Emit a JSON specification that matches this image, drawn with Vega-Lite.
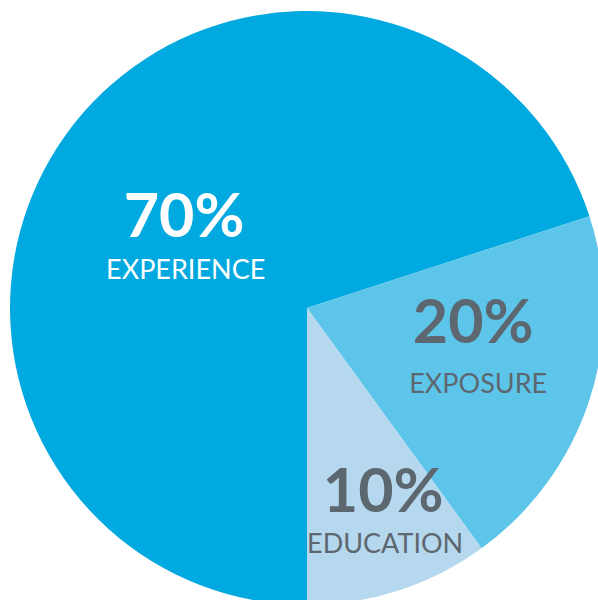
{
  "$schema": "https://vega.github.io/schema/vega-lite/v6.json",
  "width": 614,
  "height": 616,
  "padding": 0,
  "autosize": {"type": "none"},
  "background": "white",
  "config": {"view": {"stroke": null}},
  "data": {"values": [
    {"category": "EXPERIENCE", "value": 70, "pct": "70%"},
    {"category": "EXPOSURE", "value": 20, "pct": "20%"},
    {"category": "EDUCATION", "value": 10, "pct": "10%"}
  ]},
  "encoding": {
    "theta": {"field": "value", "type": "quantitative", "stack": true, "scale": {"range": [3.14159265, 9.42477796]}},
    "order": {"field": "value", "sort": "descending"}
  },
  "layer": [
    {
      "mark": {"type": "arc", "outerRadius": 297, "stroke": null},
      "encoding": {
        "color": {"field": "category", "type": "nominal", "legend": null,
          "scale": {"domain": ["EXPERIENCE", "EXPOSURE", "EDUCATION"], "range": ["#00A9E0", "#5DC5EA", "#B6D8EE"]}}
      }
    },
    {
      "mark": {"type": "text", "radius": 150, "dx": -1.6, "dy": 17, "align": "center", "baseline": "alphabetic", "font": "Lato", "fontWeight": 700, "fontSize": 61, "fill": "#FFFFFF"},
      "encoding": {"text": {"condition": {"test": "datum.category === 'EXPERIENCE'", "field": "pct"}, "value": ""}}
    },
    {
      "mark": {"type": "text", "radius": 150, "dx": 0, "dy": 59, "align": "center", "baseline": "alphabetic", "font": "Lato", "fontWeight": 400, "fontSize": 27, "fill": "#FFFFFF"},
      "encoding": {"text": {"condition": {"test": "datum.category === 'EXPERIENCE'", "field": "category"}, "value": ""}}
    },
    {
      "mark": {"type": "text", "radius": 180, "dx": -5, "dy": -21, "align": "center", "baseline": "alphabetic", "font": "Lato", "fontWeight": 700, "fontSize": 61, "fill": "#5D6770"},
      "encoding": {"text": {"condition": {"test": "datum.category === 'EXPOSURE'", "field": "pct"}, "value": ""}}
    },
    {
      "mark": {"type": "text", "radius": 180, "dx": 0, "dy": 29, "align": "center", "baseline": "alphabetic", "font": "Lato", "fontWeight": 400, "fontSize": 27, "fill": "#5D6770"},
      "encoding": {"text": {"condition": {"test": "datum.category === 'EXPOSURE'", "field": "category"}, "value": ""}}
    },
    {
      "mark": {"type": "text", "radius": 240, "dx": 2, "dy": -24, "align": "center", "baseline": "alphabetic", "font": "Lato", "fontWeight": 700, "fontSize": 61, "fill": "#5D6770"},
      "encoding": {"text": {"condition": {"test": "datum.category === 'EDUCATION'", "field": "pct"}, "value": ""}}
    },
    {
      "mark": {"type": "text", "radius": 240, "dx": 4, "dy": 17, "align": "center", "baseline": "alphabetic", "font": "Lato", "fontWeight": 400, "fontSize": 27, "fill": "#5D6770"},
      "encoding": {"text": {"condition": {"test": "datum.category === 'EDUCATION'", "field": "category"}, "value": ""}}
    }
  ]
}
